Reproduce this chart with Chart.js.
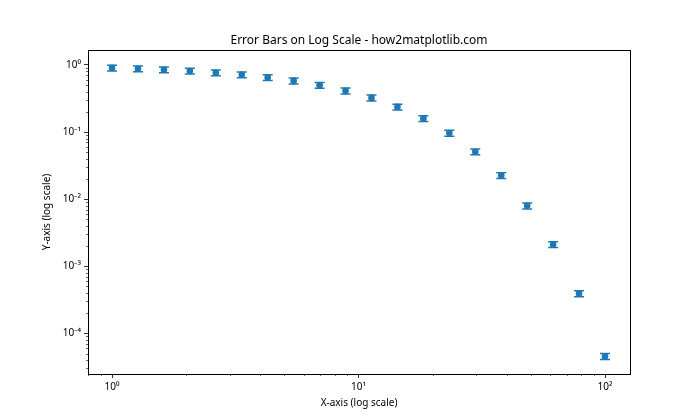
<!DOCTYPE html>
<html><head><meta charset="utf-8">
<script src="https://cdn.jsdelivr.net/npm/chart.js@4/dist/chart.umd.min.js"></script>
<style>html,body{margin:0;padding:0;background:#fff}#wrap{width:700px;height:420px}</style>
</head><body><div id="wrap"><canvas id="c" width="700" height="420"></canvas></div>
<script>
const xValues = [1.000, 1.274, 1.624, 2.069, 2.637, 3.360, 4.281, 5.456, 6.952, 8.859,
                 11.288, 14.384, 18.330, 23.357, 29.764, 37.927, 48.329, 61.585, 78.476, 100.0];
const yValues = [0.9048, 0.8804, 0.8501, 0.8131, 0.7682, 0.7146, 0.6518, 0.5795, 0.4990, 0.4124,
                 0.3234, 0.2373, 0.1599, 0.0967, 0.0510, 0.02254, 0.00796, 0.002115, 0.000391, 0.0000454];
const yErrors = [0.09048, 0.08804, 0.08501, 0.08131, 0.07682, 0.07146, 0.06518, 0.05795, 0.04990, 0.04124,
                 0.03234, 0.02373, 0.01599, 0.00967, 0.00510, 0.002254, 0.000796, 0.0002115, 0.0000391, 0.00000454];
const xTickValues = [1, 10, 100];
const xTickLabels = ['10⁰', '10¹', '10²'];
const yTickValues = [1e-4, 1e-3, 1e-2, 1e-1, 1];
const yTickLabels = ['10⁻⁴', '10⁻³', '10⁻²', '10⁻¹', '10⁰'];

const FONT = "'Noto Sans', 'DejaVu Sans', sans-serif";
const BLUE = '#1f77b4';

const errorBars = {
  id: 'errorBars',
  beforeDatasetsDraw(chart) {
    const {ctx, chartArea, scales} = chart;
    const xs = scales.x, ys = scales.y;
    ctx.save();
    ctx.beginPath();
    ctx.rect(chartArea.left, chartArea.top, chartArea.right - chartArea.left, chartArea.bottom - chartArea.top);
    ctx.clip();
    ctx.strokeStyle = BLUE;
    ctx.lineWidth = 1.5;
    for (let i = 0; i < xValues.length; i++) {
      const px = xs.getPixelForValue(xValues[i]);
      const yt = ys.getPixelForValue(yValues[i] + yErrors[i]);
      const yb = ys.getPixelForValue(yValues[i] - yErrors[i]);
      ctx.beginPath();
      ctx.moveTo(px, yt); ctx.lineTo(px, yb);
      ctx.moveTo(px - 5, yt); ctx.lineTo(px + 5, yt);
      ctx.moveTo(px - 5, yb); ctx.lineTo(px + 5, yb);
      ctx.stroke();
    }
    ctx.restore();
  },
  afterDraw(chart) {
    const {ctx, chartArea, scales} = chart;
    const {left, right, top, bottom} = chartArea;
    ctx.save();
    ctx.strokeStyle = '#000';
    ctx.lineWidth = 0.6;
    const xs = scales.x, ys = scales.y;
    for (let e = -6; e <= 3; e++) {
      for (let m = 2; m <= 9; m++) {
        const v = m * Math.pow(10, e);
        if (v > xs.min && v < xs.max) {
          const px = Math.round(xs.getPixelForValue(v)) + 0.5;
          ctx.beginPath(); ctx.moveTo(px, bottom); ctx.lineTo(px, bottom + 2); ctx.stroke();
        }
        if (v > ys.min && v < ys.max) {
          const py = Math.round(ys.getPixelForValue(v)) + 0.5;
          ctx.beginPath(); ctx.moveTo(left, py); ctx.lineTo(left - 2, py); ctx.stroke();
        }
      }
    }
    ctx.lineWidth = 1;
    ctx.strokeRect(Math.round(left) + 0.5, Math.round(top) + 0.5, Math.round(right - left), Math.round(bottom - top));
    ctx.restore();
  }
};

new Chart(document.getElementById('c'), {
  type: 'scatter',
  data: {
    datasets: [{
      data: xValues.map((x, i) => ({x: x, y: yValues[i]})),
      backgroundColor: BLUE,
      borderWidth: 0,
      pointRadius: 3.3,
      pointHoverRadius: 3.3
    }]
  },
  options: {
    responsive: false,
    devicePixelRatio: 1,
    animation: false,
    layout: {padding: {left: 0, right: 70, top: 0, bottom: 0}},
    plugins: {
      legend: {display: false},
      tooltip: {enabled: false},
      title: {
        display: true,
        fullSize: false,
        text: 'Error Bars on Log Scale - how2matplotlib.com',
        color: '#000',
        font: {family: FONT, size: 12, weight: 'normal', lineHeight: 1.2},
        padding: {top: 33, bottom: 2.6}
      }
    },
    scales: {
      x: {
        type: 'logarithmic',
        min: 0.799, max: 126.3,
        afterBuildTicks(s) { s.ticks = xTickValues.map(v => ({value: v, major: true})); },
        afterFit(s) { s.height = 46; },
        ticks: {
          autoSkip: false, maxRotation: 0, padding: 3.5, color: '#000',
          font: {family: FONT, size: 10},
          callback: (v) => { const i = xTickValues.indexOf(v); return i >= 0 ? xTickLabels[i] : ''; }
        },
        grid: {display: true, drawOnChartArea: false, drawTicks: true, tickLength: 4, tickColor: '#000', tickWidth: 0.8},
        border: {display: false},
        title: {display: true, text: 'X-axis (log scale)', color: '#000', font: {family: FONT, size: 10}, padding: {top: 0, bottom: 11}}
      },
      y: {
        type: 'logarithmic',
        min: 2.48e-5, max: 1.673,
        afterBuildTicks(s) { s.ticks = yTickValues.map(v => ({value: v, major: true})); },
        afterFit(s) { s.width = 88; },
        ticks: {
          autoSkip: false, padding: 3, color: '#000',
          font: {family: FONT, size: 10},
          callback: (v) => { const i = yTickValues.findIndex(t => Math.abs(Math.log10(t) - Math.log10(v)) < 1e-6); return i >= 0 ? yTickLabels[i] : ''; }
        },
        grid: {display: true, drawOnChartArea: false, drawTicks: true, tickLength: 4, tickColor: '#000', tickWidth: 0.8},
        border: {display: false},
        title: {display: true, text: 'Y-axis (log scale)', color: '#000', font: {family: FONT, size: 10}, padding: {top: 41, bottom: 0}}
      }
    }
  },
  plugins: [errorBars]
});
</script>
</body></html>
